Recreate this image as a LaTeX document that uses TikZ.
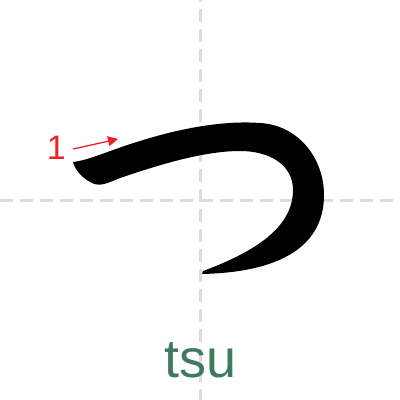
\documentclass[tikz,border=0pt]{standalone}
\usepackage{fontspec}
\setmainfont{Liberation Sans}
\usetikzlibrary{arrows.meta}
\definecolor{gridgray}{HTML}{DADDDC}
\definecolor{stroknum}{HTML}{EE2229}
\definecolor{romaji}{HTML}{3F7A5E}
\tikzset{
  guide/.style={gridgray, line width=3pt, dash pattern=on 13pt off 7pt},
  orderarrow/.style={stroknum, line width=1.3pt, -{Triangle[length=10pt,width=10pt]}},
  ordernum/.style={stroknum, font=\fontsize{34}{34}\selectfont, inner sep=0pt},
  label/.style={romaji, font=\fontsize{54}{54}\selectfont, inner sep=0pt}
}
\begin{document}
\begin{tikzpicture}[x=1pt,y=-1pt]
\useasboundingbox (0,0) rectangle (400,400);
\fill[white] (0,0) rectangle (400,400);
\draw[guide, dash phase=11pt] (200,0) -- (200,400);
\draw[guide] (0,200.5) -- (400,200.5);
% stroke
\fill[black] (73,162) .. controls (90,160) and (110,150) .. (140,141)
  .. controls (175,130) and (220,120) .. (260,123)
  .. controls (298,125) and (324,158) .. (324,195)
  .. controls (324,240) and (290,272) .. (202,274)
  .. controls (202,273) .. (203,271)
  .. controls (260,250) and (293,225) .. (293,190)
  .. controls (293,165) and (270,151) .. (240,151)
  .. controls (200,151) and (150,168) .. (120,178)
  .. controls (108,183) and (100,187) .. (92,183)
  .. controls (82,178) and (75,170) .. (73,162) -- cycle;
\node[ordernum, anchor=base east] (n1) at (66,159) {1};
\coordinate (a1) at (73,149);
\coordinate (a2) at (118,139);
\draw[orderarrow] (a1) -- (a2);
\node[label, anchor=base] (tsu) at (201,377) {tsu};
\end{tikzpicture}
\end{document}
